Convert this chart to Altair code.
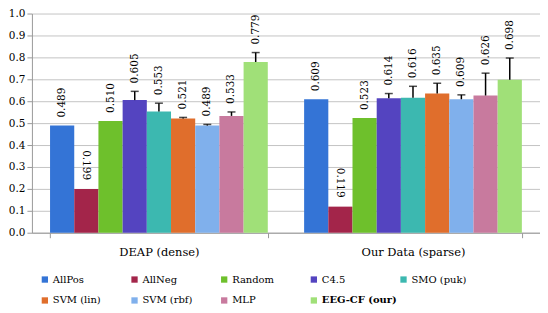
import altair as alt
import pandas as pd

groups = ["DEAP (dense)", "Our Data (sparse)"]
methods = ["AllPos", "AllNeg", "Random", "C4.5", "SMO (puk)",
           "SVM (lin)", "SVM (rbf)", "MLP", "EEG-CF (our)"]
colors = ["#3474D6", "#A3254A", "#6EC02C", "#5444C0", "#3CB8B0",
          "#E06E2C", "#80B0EC", "#C87A9E", "#A0E078"]

deap_vals = [0.489, 0.199, 0.510, 0.605, 0.553, 0.521, 0.489, 0.533, 0.779]
deap_err = [0.0, 0.0, 0.0, 0.040, 0.038, 0.005, 0.005, 0.018, 0.043]
ours_vals = [0.609, 0.119, 0.523, 0.614, 0.616, 0.635, 0.609, 0.626, 0.698]
ours_err = [0.0, 0.0, 0.0, 0.021, 0.052, 0.047, 0.020, 0.102, 0.099]

y_ticks = [0.0, 0.1, 0.2, 0.3, 0.4, 0.5, 0.6, 0.7, 0.8, 0.9, 1.0]

rows = []
for g, vals, errs in [(groups[0], deap_vals, deap_err), (groups[1], ours_vals, ours_err)]:
    for m, v, e in zip(methods, vals, errs):
        rows.append({"group": g, "method": m, "value": v, "err": e})
df = pd.DataFrame(rows)

FONT = "DejaVu Serif"

x_axis = alt.Axis(labelAngle=0, labelFontSize=11.5, labelFont=FONT,
                  labelColor="#000000", labelPadding=9,
                  tickBand="extent", tickSize=5, tickColor="#999999",
                  domainColor="#999999", grid=False)
y_axis = alt.Axis(values=y_ticks, format=".1f", labelFont=FONT,
                  labelFontSize=10.5, labelColor="#000000", labelOverlap=False,
                  gridColor="#c4c4c4", domainColor="#999999",
                  tickColor="#999999", tickSize=5, labelPadding=2)

x_enc = alt.X("group:N", sort=groups, title=None,
              scale=alt.Scale(paddingInner=0.143, paddingOuter=0.0714),
              axis=x_axis)
xo_enc = alt.XOffset("method:N", sort=methods, scale=alt.Scale(paddingInner=0, paddingOuter=0))
y_scale = alt.Scale(domain=[0, 1], nice=False)

base = alt.Chart(df).transform_calculate(top="datum.value + datum.err")

bars = base.mark_bar(strokeWidth=0).encode(
    x=x_enc,
    xOffset=xo_enc,
    y=alt.Y("value:Q", scale=y_scale, title=None, axis=y_axis),
    color=alt.Color("method:N", sort=methods,
                    scale=alt.Scale(domain=methods, range=colors),
                    legend=alt.Legend(
                        title=None, orient="none", legendX=8, legendY=262,
                        direction="horizontal", columns=5, gridAlign="all",
                        columnPadding=1, rowPadding=11, padding=0,
                        symbolType="square", symbolSize=40, symbolStrokeWidth=0,
                        labelFont=FONT, labelFontSize=10, labelColor="#000000",
                        labelOffset=3, labelLimit=200,
                        labelFontWeight=alt.ExprRef(
                            "datum.label == 'EEG-CF (our)' ? 'bold' : 'normal'"))),
)

errdf = base.transform_filter("datum.err > 0")
rules = errdf.mark_rule(color="#000000", strokeWidth=1.5).encode(
    x=x_enc, xOffset=xo_enc,
    y=alt.Y("value:Q", scale=y_scale, title=None, axis=y_axis), y2="top:Q")
caps = errdf.mark_tick(color="#000000", thickness=1.5, size=8).encode(
    x=x_enc, xOffset=xo_enc,
    y=alt.Y("top:Q", scale=y_scale, title=None, axis=y_axis))

labels_up = base.transform_filter("datum.method != 'AllNeg'").mark_text(
    angle=270, align="left", baseline="middle", dx=8,
    font=FONT, fontSize=10.5, color="#000000").encode(
    x=x_enc, xOffset=xo_enc,
    y=alt.Y("top:Q", scale=y_scale, title=None, axis=y_axis),
    text=alt.Text("value:Q", format=".3f"))

labels_down = base.transform_filter("datum.method == 'AllNeg'").mark_text(
    angle=90, align="right", baseline="middle", dx=-9,
    font=FONT, fontSize=10.5, color="#000000").encode(
    x=x_enc, xOffset=xo_enc,
    y=alt.Y("top:Q", scale=y_scale, title=None, axis=y_axis),
    text=alt.Text("value:Q", format=".3f"))

chart = alt.layer(bars, rules, caps, labels_up, labels_down).properties(
    width=510, height=220, padding=0, background="#ffffff"
).configure_view(stroke=None)

chart.save("out.html", embed_options={"renderer": "svg", "actions": False})
